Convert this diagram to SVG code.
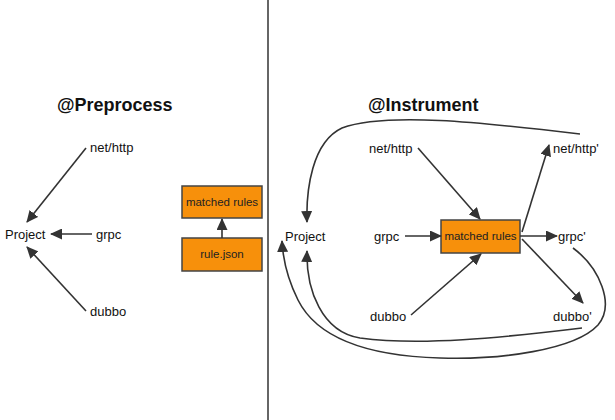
<svg xmlns="http://www.w3.org/2000/svg" width="615" height="420" viewBox="0 0 615 420">
<defs>
<marker id="ah" viewBox="0 0 12 11" refX="11" refY="5.5" markerWidth="12" markerHeight="11" markerUnits="userSpaceOnUse" orient="auto">
<path d="M0,0 L12,5.5 L0,11 z" fill="#333"/>
</marker>
<style>
.t{font-family:"Liberation Sans",Arial,sans-serif;font-size:13px;fill:#111;}
.h{font-family:"Liberation Sans",Arial,sans-serif;font-size:18px;font-weight:bold;fill:#111;}
.bt{font-family:"Liberation Sans",Arial,sans-serif;font-size:11.5px;fill:#222;text-anchor:middle;}
.box{fill:#F7900B;stroke:#444;stroke-width:1.5;}
.c{fill:none;stroke:#333;stroke-width:1.6;marker-end:url(#ah);}
</style>
</defs>
<rect width="615" height="420" fill="#fff"/>
<line x1="268" y1="0" x2="268" y2="420" stroke="#333" stroke-width="1.5"/>
<text class="h" x="57" y="111">@Preprocess</text>
<text class="h" x="368" y="111">@Instrument</text>

<g id="l-nethttp"><text class="t" x="90" y="152">net/http</text></g>
<g id="l-project"><text class="t" x="5" y="239">Project</text></g>
<g id="l-grpc"><text class="t" x="96" y="239">grpc</text></g>
<g id="l-dubbo"><text class="t" x="90" y="316">dubbo</text></g>
<g id="l-matched"><rect class="box" x="182" y="186" width="80" height="32"/><text class="bt" x="222" y="206">matched rules</text></g>
<g id="l-rule"><rect class="box" x="182" y="238" width="80" height="33"/><text class="bt" x="222" y="258">rule.json</text></g>

<g id="r-nethttp"><text class="t" x="369" y="153">net/http</text></g>
<g id="r-nethttp2"><text class="t" x="553" y="153">net/http'</text></g>
<g id="r-project"><text class="t" x="285" y="241">Project</text></g>
<g id="r-grpc"><text class="t" x="374" y="241">grpc</text></g>
<g id="r-matched"><rect class="box" x="441" y="220" width="79" height="33"/><text class="bt" x="480.5" y="240">matched rules</text></g>
<g id="r-grpc2"><text class="t" x="558" y="241">grpc'</text></g>
<g id="r-dubbo"><text class="t" x="370" y="321">dubbo</text></g>
<g id="r-dubbo2"><text class="t" x="553" y="321">dubbo'</text></g>

<g id="connectors">
<path class="c" d="M86,148 L27,222"/>
<path class="c" d="M92,234 L51,234"/>
<path class="c" d="M86,311 L27,247"/>
<path class="c" d="M222,238 L222,219"/>

<path class="c" d="M418,148 L480,219"/>
<path class="c" d="M405,236 L441,236"/>
<path class="c" d="M411,315 L481,254"/>
<path class="c" d="M522,232 L549,145"/>
<path class="c" d="M520,236 L557,236"/>
<path class="c" d="M522,239 L583,303"/>
<path class="c" d="M580,134 C480,122 385,112 342,128 C312,142 306,190 307,222"/>
<path class="c" d="M582,328 C500,338 420,346 360,338 C322,332 306,290 307,251"/>
<path class="c" d="M573,248 C600,268 615,305 598,325 C575,350 500,360 440,358 C370,356 318,340 298,300 C288,280 283,260 282,241"/>
</g>
</svg>
